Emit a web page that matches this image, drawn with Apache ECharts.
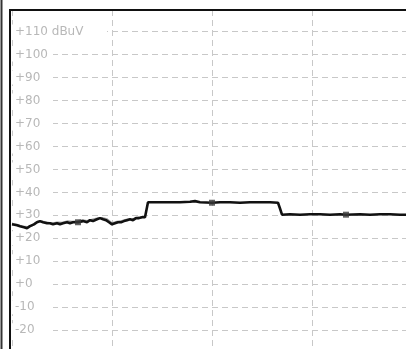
<!DOCTYPE html>
<html>
<head>
<meta charset="utf-8">
<style>
  html, body { margin: 0; padding: 0; background: #fff; overflow: hidden; }
  #chart { width: 420px; height: 360px; }
</style>
<script src="https://cdn.jsdelivr.net/npm/echarts@6/dist/echarts.min.js"></script>
</head>
<body>
<div id="chart"></div>
<script>
// Level trace (dBuV) against sweep step
const traceX = [0, 2, 5, 8, 12, 15, 18, 22, 25, 28, 31, 35, 38, 41, 45, 48, 51, 55, 58, 61,
  66, 68, 71, 75, 78, 81, 85, 88, 91, 94, 97, 100, 103, 106, 109, 112, 115, 118, 121, 124,
  127, 130, 133, 134, 136, 138, 148, 158, 168, 178, 183, 188, 200, 208, 218, 228, 238, 248,
  258, 266, 268, 270, 278, 288, 298, 308, 318, 328, 334, 348, 358, 368, 378, 388, 394];
const traceY = [26.1, 26.6, 25.7, 25.3, 24.8, 24.4, 25.3, 26.1, 27.0, 27.5, 27.0, 26.6, 26.6, 26.1, 26.6, 26.1, 26.6, 27.0, 26.6, 27.0,
  27.0, 27.0, 27.5, 27.0, 27.9, 27.5, 28.3, 28.8, 28.3, 27.9, 27.0, 26.1, 26.6, 27.0, 27.0, 27.5, 27.9, 28.3, 27.9, 28.8,
  28.8, 29.2, 29.2, 31.4, 35.7, 35.5, 35.7, 35.7, 35.7, 35.9, 36.2, 35.7, 35.5, 35.7, 35.7, 35.5, 35.7, 35.7,
  35.7, 35.5, 33.0, 30.3, 30.5, 30.3, 30.5, 30.5, 30.3, 30.5, 30.3, 30.5, 30.3, 30.5, 30.5, 30.3, 30.3];

// Second (reference) trace, only over the low band
const refX = [0, 5, 10, 15, 20, 25, 30, 35, 40, 45, 50, 55, 60, 65, 70, 75, 80, 85, 90, 95, 100, 105, 110, 115, 120, 125, 130];
const refY = [26.3, 25.9, 25.2, 24.9, 25.6, 27.2, 27.3, 26.9, 26.5, 26.9, 26.8, 27.4, 27.2, 27.4, 27.9, 27.6, 28.1, 28.6, 28.9, 28.3, 26.6, 27.2, 27.6, 28.2, 28.3, 28.9, 29.3];

// Marker positions along the trace
const markerX = [66, 200, 334];

// Vertical scale ticks
const yTickValues = [110, 100, 90, 80, 70, 60, 50, 40, 30, 20, 10, 0, -10, -20];
const yTickLabels = ['+110 dBuV', '+100', '+90', '+80', '+70', '+60', '+50', '+40', '+30', '+20', '+10', '+0', '-10', '-20'];

const trace = traceX.map((x, i) => [x, traceY[i]]);
const ref = refX.map((x, i) => [x, refY[i]]);
const markers = markerX.map(x => [x, traceY[traceX.indexOf(x)]]);

const gridDash = { color: '#c8c8c8', width: 1, type: [6, 4] };
const Y_MIN = -30, Y_MAX = 119.4;

const chart = echarts.init(document.getElementById('chart'), null, { renderer: 'canvas' });
chart.setOption({
  animation: false,
  backgroundColor: '#ffffff',
  grid: { left: 12, top: 10, width: 400, height: 343.2, containLabel: false },
  xAxis: {
    type: 'value', min: 0, max: 400, interval: 100,
    axisLine: { show: false }, axisTick: { show: false }, axisLabel: { show: false },
    splitLine: { show: true, lineStyle: gridDash }
  },
  yAxis: [
    {
      type: 'value', min: Y_MIN, max: Y_MAX, interval: 10, z: 0,
      axisLine: { show: false }, axisTick: { show: false }, axisLabel: { show: false },
      splitLine: { show: true, lineStyle: gridDash }
    },
    {
      type: 'value', min: Y_MIN, max: Y_MAX, interval: 10, z: 3, position: 'left', offset: 0,
      axisLine: { show: false }, axisTick: { show: false }, splitLine: { show: false },
      axisLabel: {
        show: true, inside: true, margin: 0, align: 'left',
        formatter: function (v) {
          const i = yTickValues.indexOf(v);
          if (i < 0) return '';
          return (v === 110 ? '{top|' : '{tick|') + yTickLabels[i] + '}';
        },
        rich: {
          tick: { width: 38, padding: [1, 0, 1, 3], backgroundColor: '#ffffff', color: '#b8b8b8', fontFamily: 'DejaVu Sans', fontSize: 12 },
          top: { width: 92, padding: [1, 0, 1, 3], backgroundColor: '#ffffff', color: '#b8b8b8', fontFamily: 'DejaVu Sans', fontSize: 12 }
        }
      }
    }
  ],
  series: [
    {
      type: 'line', data: ref, symbol: 'none', z: 4,
      lineStyle: { color: '#9a9a9a', width: 2 }
    },
    {
      type: 'line', data: trace, symbol: 'none', z: 5,
      lineStyle: { color: '#111111', width: 2.6 }
    },
    {
      type: 'scatter', data: markers, symbol: 'rect', symbolSize: 6, z: 6,
      itemStyle: { color: '#3a3a3a' }
    }
  ],
  graphic: [
    { type: 'line', shape: { x1: 1.5, y1: 0, x2: 1.5, y2: 360 }, style: { stroke: '#333333', lineWidth: 2 }, z: 10 },
    { type: 'line', shape: { x1: 10, y1: 9, x2: 10, y2: 360 }, style: { stroke: '#111111', lineWidth: 2 }, z: 10 },
    { type: 'line', shape: { x1: 9, y1: 10, x2: 420, y2: 10 }, style: { stroke: '#111111', lineWidth: 2 }, z: 10 }
  ]
});
</script>
</body>
</html>
